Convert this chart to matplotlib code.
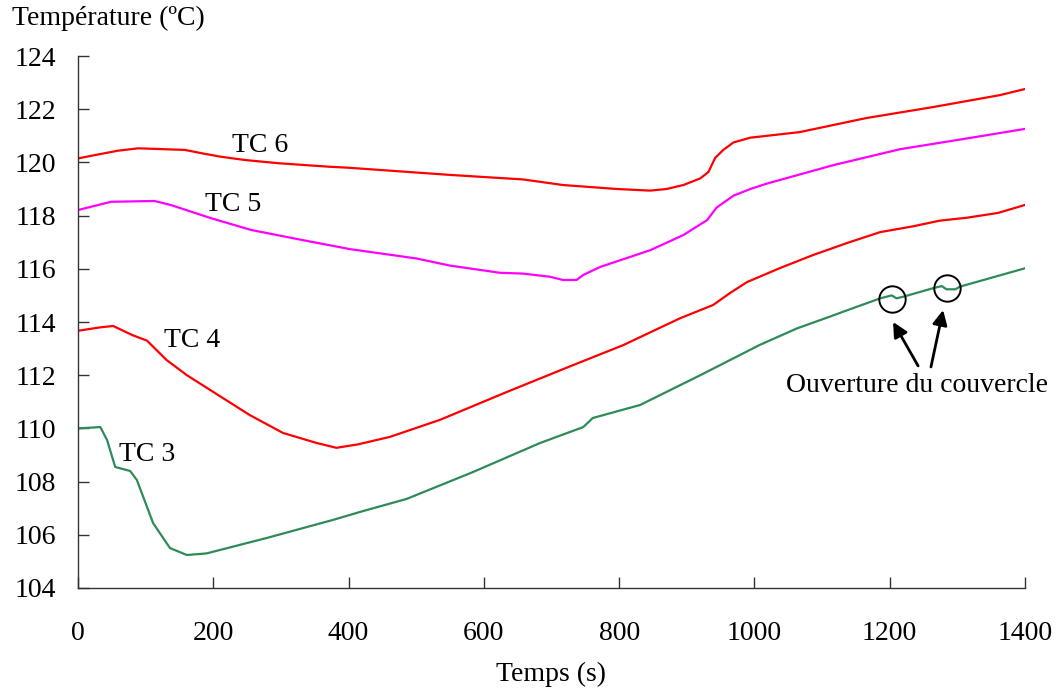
import matplotlib
matplotlib.use("Agg")
import matplotlib.pyplot as plt

plt.rcParams['font.family'] = ['Liberation Serif', 'DejaVu Serif']

# Thermocouple readings: time (s) and temperature (°C)
tc6_t = [0, 30, 59, 89, 158, 188, 212, 247, 296, 370, 400, 550, 658, 717, 797, 846,
         870, 895, 920, 932, 942, 954, 969, 994, 1067, 1166, 1264, 1363, 1400]
tc6_v = [120.15, 120.3, 120.44, 120.53, 120.47, 120.32, 120.21, 120.09, 119.97, 119.84,
         119.8, 119.53, 119.36, 119.15, 119.0, 118.94, 119.0, 119.15, 119.4, 119.64,
         120.17, 120.47, 120.75, 120.93, 121.14, 121.67, 122.08, 122.53, 122.76]

tc5_t = [0, 49, 113, 137, 197, 256, 328, 402, 500, 550, 624, 658, 698, 717, 737,
         747, 772, 846, 895, 930, 944, 969, 994, 1018, 1117, 1216, 1314, 1400]
tc5_v = [118.21, 118.52, 118.55, 118.4, 117.9, 117.46, 117.1, 116.74, 116.39, 116.12,
         115.85, 115.82, 115.7, 115.58, 115.58, 115.77, 116.07, 116.7, 117.27, 117.83,
         118.3, 118.75, 119.0, 119.2, 119.9, 120.5, 120.9, 121.26]

tc4_t = [0, 33, 52, 81, 102, 131, 161, 200, 254, 303, 353, 382, 414, 461, 535, 634,
         732, 806, 890, 939, 964, 989, 1038, 1087, 1137, 1186, 1235, 1274, 1314,
         1360, 1400]
tc4_v = [113.67, 113.8, 113.85, 113.5, 113.3, 112.57, 112.0, 111.37, 110.5, 109.83,
         109.45, 109.27, 109.4, 109.68, 110.32, 111.37, 112.38, 113.13, 114.14, 114.64,
         115.09, 115.5, 116.03, 116.52, 116.97, 117.38, 117.6, 117.81, 117.92,
         118.1, 118.4]

tc3_t = [0, 33, 43, 55, 77, 87, 102, 111, 136, 161, 190, 279, 377, 417, 486, 584,
         683, 747, 761, 831, 920, 1008, 1063, 1107, 1137, 1186, 1203, 1210, 1220,
         1264, 1277, 1284, 1297, 1304, 1400]
tc3_v = [110.0, 110.05, 109.56, 108.55, 108.4, 108.06, 107.05, 106.44, 105.5, 105.24,
         105.3, 105.88, 106.56, 106.86, 107.35, 108.36, 109.45, 110.05, 110.39, 110.88,
         112.0, 113.14, 113.76, 114.16, 114.44, 114.89, 115.0, 114.89, 114.95, 115.27,
         115.35, 115.23, 115.23, 115.33, 116.02]

x_ticks = [0, 200, 400, 600, 800, 1000, 1200, 1400]
y_ticks = [104, 106, 108, 110, 112, 114, 116, 118, 120, 122, 124]

# Lid-opening events marked on TC 3
lid_t = [1203, 1285]
lid_v = [114.88, 115.28]

fig = plt.figure(figsize=(10.57, 6.89), dpi=100)
ax = fig.add_axes([0.0738, 0.1466, 0.8959, 0.7721])

lw = 1.6
ax.plot(tc6_t, tc6_v, color='#ff0000', lw=lw)
ax.plot(tc5_t, tc5_v, color='#ff00ff', lw=lw)
ax.plot(tc4_t, tc4_v, color='#ff0000', lw=lw)
ax.plot(tc3_t, tc3_v, color='#2e8b57', lw=lw)

fs = 20
ax.text(269, 120.62, 'TC 6', fontsize=fs, ha='center', va='center')
ax.text(229, 118.42, 'TC 5', fontsize=fs, ha='center', va='center')
ax.text(168, 113.3, 'TC 4', fontsize=fs, ha='center', va='center')
ax.text(102, 109.02, 'TC 3', fontsize=fs, ha='center', va='center')

ax.plot(lid_t, lid_v, linestyle='none', marker='o', markersize=19,
        markerfacecolor='none', markeredgecolor='black', markeredgewidth=1.4)

ax.text(1240, 111.63, 'Ouverture du couvercle', fontsize=fs, ha='center', va='center')
arrow = dict(arrowstyle='-|>', color='black', lw=2, mutation_scale=22,
             shrinkA=0, shrinkB=0)
ax.annotate('', xy=(1205, 114.0), xytext=(1242, 112.35), arrowprops=arrow)
ax.annotate('', xy=(1279, 114.45), xytext=(1261, 112.31), arrowprops=arrow)

ax.set_xlim(0, 1400)
ax.set_ylim(104, 124)
ax.set_xticks(x_ticks)
ax.set_yticks(y_ticks)
ax.tick_params(axis='both', direction='in', length=8, width=1, color='#333333',
               labelsize=fs)
ax.tick_params(axis='x', pad=24)
ax.tick_params(axis='y', pad=16)

for side in ['top', 'right']:
    ax.spines[side].set_visible(False)
for side in ['left', 'bottom']:
    ax.spines[side].set_color('#333333')
    ax.spines[side].set_linewidth(1)

ax.set_xlabel('Temps (s)', fontsize=fs, labelpad=11)
fig.text(12 / 1057, 1 - 18 / 689, 'Température (ºC)', fontsize=fs, ha='left', va='center')

fig.savefig('out.png', dpi=100)
